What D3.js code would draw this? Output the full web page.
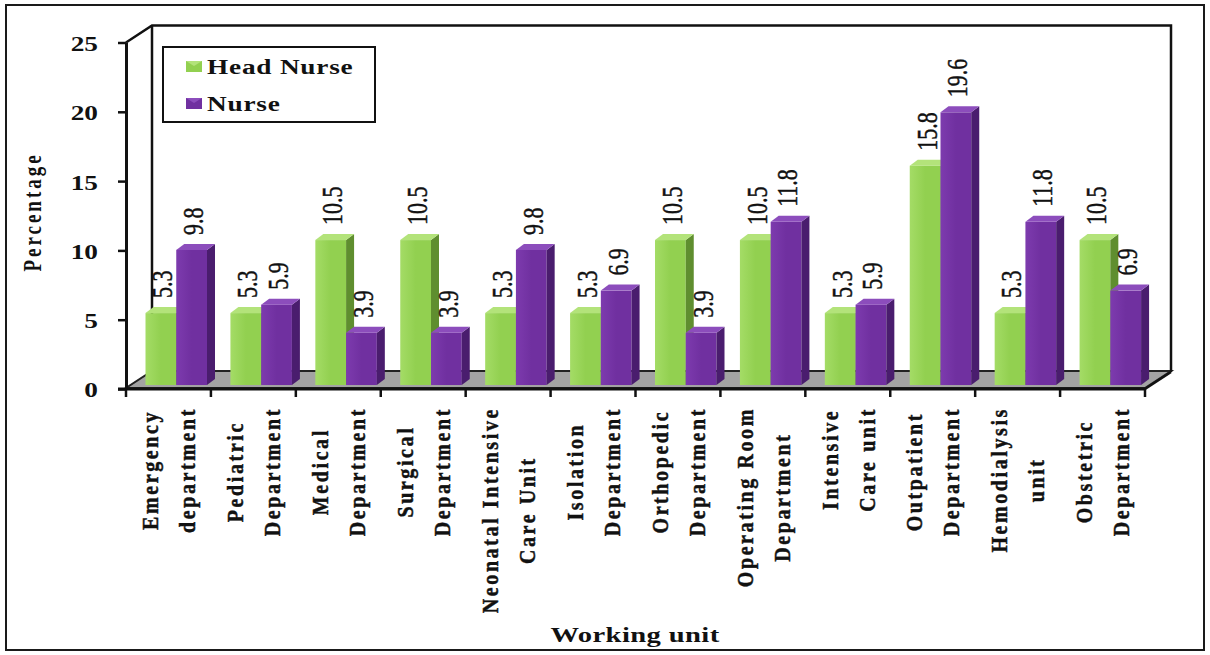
<!DOCTYPE html>
<html><head><meta charset="utf-8">
<script src="https://cdn.jsdelivr.net/npm/d3@7"></script>
<style>
body{margin:0;background:#fff;}
svg{display:block;}
text{font-family:"Liberation Serif","Times New Roman",serif;}
</style></head>
<body><svg id="c" width="1210" height="655"></svg>
<script>
// ---- data ----
const categories = [
  ["Emergency","department"],["Pediatric","Department"],["Medical","Department"],
  ["Surgical","Department"],["Neonatal Intensive","Care Unit"],["Isolation","Department"],
  ["Orthopedic","Department"],["Operating Room","Department"],["Intensive","Care unit"],
  ["Outpatient","Department"],["Hemodialysis","unit"],["Obstetric","Department"]
];
const seriesNames = ["Head Nurse","Nurse"];
const headNurse = [5.3,5.3,10.5,10.5,5.3,5.3,10.5,10.5,5.3,15.8,5.3,10.5];
const nurse     = [9.8,5.9,3.9,3.9,9.8,6.9,3.9,11.8,5.9,19.6,11.8,6.9];
const yTicks = [0,5,10,15,20,25];
const yTitle = "Percentage";
const xTitle = "Working unit";

// ---- setup ----
const svg = d3.select("#c");
const SX = 1.3;              // horizontal stretch of the original picture
const DX = 8, DY = 6;        // bar depth
const WX = 26, WY = 17;      // wall depth
const keys = categories.map(c => c.join(" "));
const x = d3.scaleBand().domain(keys).range([126, 1145]).padding(0);
const xs = d3.scaleBand().domain(seriesNames).range([19.5, 81]).padding(0);
const y = d3.scaleLinear().domain([0,25]).range([389, 42.5]);
const yb = d3.scaleLinear().domain([0,25]).range([387.5, 36.5]);
const barBottom = 385;
const colors = {
  "Head Nurse": {front:"#92D050", light:"#A4DC66", top:"#B3E37A", side:"#5F8E2F"},
  "Nurse":      {front:"#7030A0", light:"#7D3BAE", top:"#8C4DBC", side:"#4A1D6E"}
};
const values = {"Head Nurse": headNurse, "Nurse": nurse};

// outer frame
svg.append("rect").attr("x",6).attr("y",5).attr("width",1198).attr("height",645)
  .attr("fill","#fff").attr("stroke","#1a1a1a").attr("stroke-width",2);

// gradients
const defs = svg.append("defs");
seriesNames.forEach((s,i) => {
  const g = defs.append("linearGradient").attr("id","g"+i).attr("x1","0").attr("x2","1").attr("y1","0").attr("y2","0");
  g.append("stop").attr("offset","0").attr("stop-color",colors[s].light);
  g.append("stop").attr("offset","0.5").attr("stop-color",colors[s].front);
  g.append("stop").attr("offset","1").attr("stop-color",colors[s].front);
});

const x0 = x.range()[0], x1 = x.range()[1];
const yTop = y(25), yZero = y(0);

// floor
svg.append("polygon")
  .attr("points", [[x0,yZero-1],[x1,yZero-1],[x1+WX,yZero-WY-1],[x0+WX,yZero-WY-1]].map(p=>p.join(",")).join(" "))
  .attr("fill","#A3A3A3").attr("stroke","#222").attr("stroke-width",2);

// walls
const wall = svg.append("g").attr("fill","none").attr("stroke","#111").attr("stroke-width",2.5);
wall.append("path").attr("d", `M${x0},${yTop}L${x0+WX},${yTop-WY}L${x1+WX},${yTop-WY}L${x1+WX},${yZero-WY}`);
wall.append("path").attr("d", `M${x0+WX},${yTop-WY}L${x0+WX},${yZero-WY}`);
wall.append("path").attr("d", `M${x1},${yZero}L${x1+WX},${yZero-WY}`);

// bars
const gBars = svg.append("g");
keys.forEach((k,i) => {
  seriesNames.forEach((s,si) => {
    const v = values[s][i];
    const xl = x(k) + xs(s), w = xs.bandwidth(), yt = yb(v);
    const c = colors[s];
    gBars.append("rect").attr("x",xl).attr("y",yt).attr("width",w).attr("height",barBottom-yt)
      .attr("fill",`url(#g${si})`);
    gBars.append("polygon").attr("points",[[xl+w,yt],[xl+w+DX,yt-DY],[xl+w+DX,barBottom-DY],[xl+w,barBottom]].map(p=>p.join(",")).join(" "))
      .attr("fill",c.side);
    gBars.append("polygon").attr("points",[[xl,yt],[xl+DX,yt-DY],[xl+w+DX,yt-DY],[xl+w,yt]].map(p=>p.join(",")).join(" "))
      .attr("fill",c.top);
    gBars.append("text")
      .attr("transform",`translate(${xl+w/2+2},${yt-15}) scale(${SX},1) rotate(-90)`)
      .attr("dy","0.33em").attr("text-anchor","start")
      .attr("font-size",22).attr("fill","#111")
      .attr("stroke","#111").attr("stroke-width",0.35)
      .text(v.toFixed(1));
  });
});

// x axis front edge + ticks
svg.append("line").attr("x1",118).attr("x2",x1).attr("y1",yZero).attr("y2",yZero)
  .attr("stroke","#111").attr("stroke-width",3);
const bounds = d3.range(keys.length+1).map(i => x0 + i*x.step());
svg.append("g").selectAll("line").data(bounds).join("line")
  .attr("x1",d=>d).attr("x2",d=>d).attr("y1",yZero).attr("y2",yZero+8)
  .attr("stroke","#111").attr("stroke-width",2.5);

// y axis
const ax = svg.append("g").attr("transform",`translate(${x0},0)`)
  .call(d3.axisLeft(y).tickValues(yTicks).tickSize(8).tickSizeOuter(0));
ax.select(".domain").attr("stroke","#111").attr("stroke-width",3);
ax.selectAll(".tick line").attr("stroke","#111").attr("stroke-width",2.5);
ax.selectAll(".tick text")
  .attr("x",-28/SX).attr("dy","0.38em")
  .attr("transform",`scale(${SX},1)`)
  .attr("font-family",'"Liberation Serif", serif')
  .attr("font-size",21).attr("font-weight","bold").attr("fill","#111");

// category labels
const CSX = 1.2;
const gCat = svg.append("g");
keys.forEach((k,i) => {
  const lines = categories[i];
  const cx = x(k) + x.bandwidth()/2 + 1;
  const g = gCat.append("g");
  const ts = lines.map((ln,li) => {
    const off = (li - (lines.length-1)/2) * 37;
    return g.append("text")
      .attr("font-size",20).attr("font-weight","bold").attr("letter-spacing",2.6)
      .attr("text-anchor","middle").attr("dy","0.3em").attr("fill","#111")
      .attr("stroke","#111").attr("stroke-width",0.4)
      .attr("data-x", cx+off)
      .text(ln);
  });
  const L = d3.max(ts, t => t.node().getComputedTextLength());
  const cy = 407 + L/2;
  ts.forEach(t => t.attr("transform",`translate(${t.attr("data-x")},${cy}) scale(${CSX},1) rotate(-90)`));
});

// axis titles
svg.append("text")
  .attr("transform",`translate(41,212) scale(${SX},1) rotate(-90)`)
  .attr("text-anchor","middle").attr("font-size",19).attr("font-weight","bold")
  .attr("letter-spacing",3).attr("fill","#111").text(yTitle);
svg.append("text")
  .attr("transform",`translate(635,642) scale(${SX},1)`)
  .attr("text-anchor","middle").attr("font-size",22).attr("font-weight","bold")
  .attr("letter-spacing",0.3).attr("fill","#111").text(xTitle);

// legend
const lg = svg.append("g");
lg.append("rect").attr("x",163).attr("y",47).attr("width",212).attr("height",75)
  .attr("fill","#fff").attr("stroke","#111").attr("stroke-width",2);
seriesNames.forEach((s,i) => {
  const yy = 61 + i*37;
  const c = colors[s];
  lg.append("rect").attr("x",186).attr("y",yy).attr("width",16).attr("height",11).attr("fill",c.front);
  lg.append("polygon").attr("points",`186,${yy} 194,${yy+5} 202,${yy}`).attr("fill",c.top);
  lg.append("text").attr("transform",`translate(207,${yy+13}) scale(${SX},1)`)
    .attr("font-size",21).attr("font-weight","bold").attr("letter-spacing",0.6)
    .attr("fill","#111").text(s);
});
</script>
</body></html>
